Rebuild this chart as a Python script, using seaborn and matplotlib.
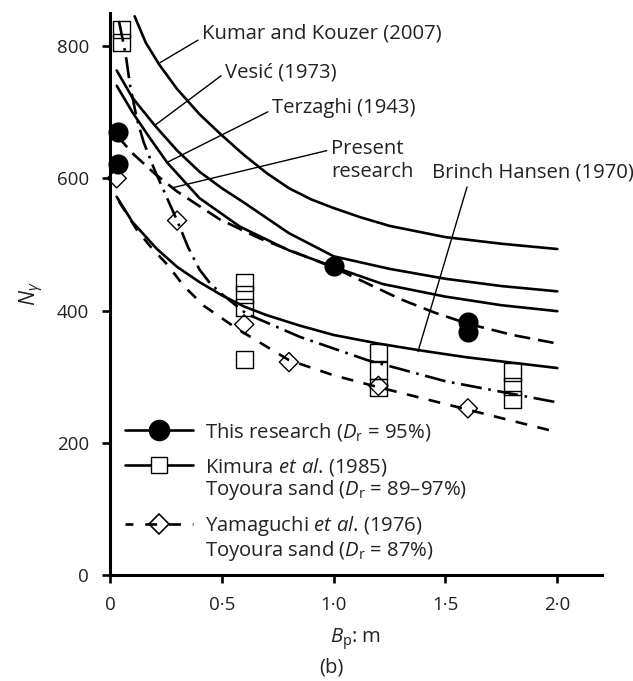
import matplotlib.pyplot as plt
import pandas as pd
import seaborn as sns
from matplotlib.lines import Line2D

# Theory / fitted curves: footing width B_p (m) against N_gamma
kumar_bp = [0.11, 0.16, 0.22, 0.3, 0.4, 0.5, 0.6, 0.7, 0.8, 0.9, 1.0, 1.12, 1.25, 1.5, 1.75, 2.0]
kumar_ng = [845, 805, 772, 735, 697, 665, 635, 608, 585, 568, 555, 541, 528, 511, 501, 493]

vesic_bp = [0.03, 0.1, 0.2, 0.3, 0.4, 0.5, 0.6, 0.8, 1.0, 1.25, 1.5, 1.75, 2.0]
vesic_ng = [763, 722, 680, 642, 610, 585, 563, 517, 482, 463, 448, 437, 429]

terzaghi_bp = [0.03, 0.1, 0.18, 0.255, 0.4, 0.58, 0.8, 1.0, 1.22, 1.5, 1.75, 2.0]
terzaghi_ng = [740, 700, 660, 624, 570, 527, 491, 466, 440, 421, 408, 399]

present_bp = [0.03, 0.1, 0.2, 0.3, 0.49, 0.67, 0.85, 1.0, 1.15, 1.3, 1.45, 1.6, 1.8, 2.0]
present_ng = [665, 638, 607, 580, 538, 509, 485, 465, 441, 417, 397, 380, 363, 350]

hansen_bp = [0.03, 0.1, 0.21, 0.3, 0.4, 0.5, 0.6, 0.7, 0.85, 1.0, 1.2, 1.4, 1.6, 1.8, 2.0]
hansen_ng = [572, 534, 493, 466, 443, 423, 406, 393, 377, 363, 350, 339, 329, 321, 313]

kimura_fit_bp = [0.04, 0.07, 0.09, 0.12, 0.15, 0.2, 0.3, 0.35, 0.4, 0.45, 0.5, 0.61, 0.85, 1.15, 1.5, 1.75, 2.0]
kimura_fit_ng = [838, 787, 740, 690, 655, 612, 536, 495, 462, 440, 425, 395, 360, 325, 293, 277, 261]

yamaguchi_fit_bp = [0.04, 0.12, 0.18, 0.26, 0.33, 0.42, 0.57, 0.8, 1.0, 1.2, 1.6, 2.0]
yamaguchi_fit_ng = [565, 522, 497, 468, 437, 407, 372, 325, 302, 284, 250, 216]

# Measured points
this_bp = [0.035, 0.035, 1.0, 1.6, 1.6]
this_ng = [670, 622, 468, 383, 368]

kimura_bp = [0.05, 0.05, 0.6, 0.6, 0.6, 0.6, 1.2, 1.2, 1.2, 1.8, 1.8, 1.8]
kimura_ng = [825, 806, 443, 424, 405, 326, 337, 309, 283, 307, 285, 265]

yamaguchi_bp = [0.03, 0.3, 0.6, 0.8, 1.2, 1.6]
yamaguchi_ng = [600, 536, 379, 322, 286, 252]

x_ticks = [0, 0.5, 1.0, 1.5, 2.0]
x_tick_labels = ["0", "0·5", "1·0", "1·5", "2·0"]
y_ticks = [0, 200, 400, 600, 800]

sns.set_theme(style="white")
plt.rcParams["font.family"] = ["Open Sans", "DejaVu Sans"]
plt.rcParams["mathtext.fontset"] = "custom"
plt.rcParams["mathtext.rm"] = "Open Sans"
plt.rcParams["mathtext.it"] = "Open Sans:italic"

LW = 1.9
FS = 14.6
TXT = "#222222"
DASHED = (0, (6, 3))
SHORT_DASHED = (0, (4.5, 4))
DASH_DOT = (0, (8, 2.5, 1, 2.5))

fig = plt.figure(figsize=(6.33, 6.81), dpi=100)
ax = fig.add_axes([0.1738, 0.1557, 0.7773, 0.8252])

curves = [
    (kumar_bp, kumar_ng, "-"),
    (vesic_bp, vesic_ng, "-"),
    (terzaghi_bp, terzaghi_ng, "-"),
    (hansen_bp, hansen_ng, "-"),
    (present_bp, present_ng, DASHED),
    (kimura_fit_bp, kimura_fit_ng, DASH_DOT),
    (yamaguchi_fit_bp, yamaguchi_fit_ng, SHORT_DASHED),
]
for bp, ng, style in curves:
    df = pd.DataFrame({"bp": bp, "ng": ng})
    sns.lineplot(data=df, x="bp", y="ng", ax=ax, color="black", lw=LW,
                 linestyle=style, sort=False, estimator=None, clip_on=False)

pts = pd.DataFrame({"bp": this_bp, "ng": this_ng})
sns.scatterplot(data=pts, x="bp", y="ng", ax=ax, marker="o", s=210,
                color="black", edgecolor="black", linewidth=0, zorder=5, clip_on=False)
pts = pd.DataFrame({"bp": kimura_bp, "ng": kimura_ng})
sns.scatterplot(data=pts, x="bp", y="ng", ax=ax, marker="s", s=150,
                facecolor="none", edgecolor="black", linewidth=1.0, zorder=5, clip_on=False)
pts = pd.DataFrame({"bp": yamaguchi_bp, "ng": yamaguchi_ng})
sns.scatterplot(data=pts, x="bp", y="ng", ax=ax, marker="D", s=95,
                facecolor="none", edgecolor="black", linewidth=1.0, zorder=5, clip_on=False)

# curve labels with leader lines
text_kw = dict(fontsize=FS, va="center", ha="left", color=TXT, annotation_clip=False)
leader = dict(arrowstyle="-", lw=1.0, color="black", shrinkA=1, shrinkB=0)
ax.annotate("Kumar and Kouzer (2007)", xy=(0.224, 775), xytext=(0.413, 819),
            arrowprops=dict(leader, relpos=(0, 0.3)), **text_kw)
ax.annotate("Vesić (1973)", xy=(0.2, 680), xytext=(0.516, 760),
            arrowprops=dict(leader, relpos=(0, 0.5)), **text_kw)
ax.annotate("Terzaghi (1943)", xy=(0.255, 624), xytext=(0.726, 707),
            arrowprops=dict(leader, relpos=(0, 0.4)), **text_kw)
ax.annotate("Present\nresearch", xy=(0.283, 586), xytext=(0.99, 627),
            arrowprops=dict(leader, relpos=(0, 0.75)), linespacing=1.25, **text_kw)
ax.annotate("Brinch Hansen (1970)", xy=(1.377, 338), xytext=(1.44, 609),
            arrowprops=dict(leader, relpos=(0.18, 0)), **text_kw)

ax.set_xlim(0, 2.2)
ax.set_ylim(0, 850)
ax.set_xticks(x_ticks)
ax.set_xticklabels(x_tick_labels)
ax.set_yticks(y_ticks)
ax.tick_params(direction="out", length=6, width=1.9, labelsize=13.5, color="black",
               labelcolor=TXT, pad=9, bottom=True, left=True)
sns.despine(ax=ax)
for side in ["left", "bottom"]:
    ax.spines[side].set_linewidth(2.2)
    ax.spines[side].set_color("black")

ax.set_xlabel("$B_\\mathrm{p}$: m", fontsize=FS, color=TXT, labelpad=9)
ax.set_ylabel("$N_\\gamma$", fontsize=15.5, color=TXT, labelpad=8)
fig.text(0.524, 0.02, "(b)", fontsize=FS, ha="center", va="center", color=TXT)

# legend, built as three blocks so the two-line entries keep the handle on line one
blank = Line2D([], [], linestyle="none")
h_this = Line2D([], [], color="black", lw=LW, marker="o", markersize=14.5)
h_kimura = Line2D([], [], color="black", lw=LW, marker="s", markersize=12,
                  markerfacecolor="white", markeredgewidth=1.0)
h_yama = Line2D([], [], color="black", lw=LW, linestyle=(1.5, (4.5, 4.5)), marker="D",
                markersize=10, markerfacecolor="none", markeredgewidth=1.2)
leg_kw = dict(loc="center left", frameon=False, fontsize=FS, borderpad=0,
              borderaxespad=0, handlelength=3.35, handletextpad=0.6, labelspacing=0.02)
blocks = [
    ([h_this], ["This research ($D_\\mathrm{r}$ = 95%)"], 0.2544),
    ([h_kimura, blank], ["Kimura $et\\ al$. (1985)",
                         "Toyoura sand ($D_\\mathrm{r}$ = 89–97%)"], 0.1708),
    ([h_yama, blank], ["Yamaguchi $et\\ al$. (1976)",
                       "Toyoura sand ($D_\\mathrm{r}$ = 87%)"], 0.0649),
]
for i, (handles, labels, y) in enumerate(blocks):
    leg = ax.legend(handles, labels, bbox_to_anchor=(0.0305, y), **leg_kw)
    for t in leg.get_texts():
        t.set_color(TXT)
    if i < len(blocks) - 1:
        # keep earlier blocks; the last one stays as the axes legend
        ax.add_artist(leg)

fig.savefig("out.png", dpi=100)
